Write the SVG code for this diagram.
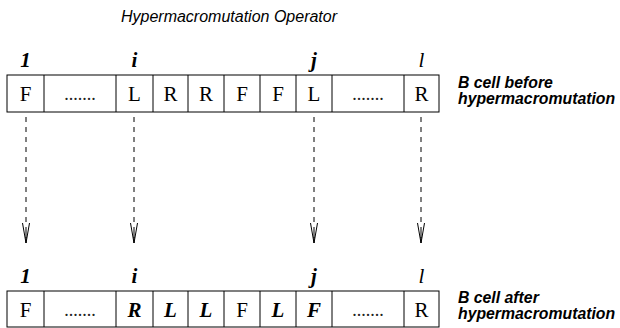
<svg xmlns="http://www.w3.org/2000/svg" width="620" height="328" viewBox="0 0 620 328">
  <style>
    .cell { fill: #fff; stroke: #000; stroke-width: 1; }
    .sym { font-family: 'Liberation Serif', 'Times New Roman', 'DejaVu Serif', serif; font-size: 21px; text-anchor: middle; fill: #000; }
    .dots { font-family: 'Liberation Serif', 'Times New Roman', 'DejaVu Serif', serif; font-size: 18px; text-anchor: middle; fill: #222; }
    .mut { font-weight: bold; font-style: italic; }
    .idx { font-family: 'Liberation Serif', 'Times New Roman', 'DejaVu Serif', serif; font-size: 21px; font-style: italic; text-anchor: middle; fill: #000; }
    .idxb { font-weight: bold; }
    .title { font-family: 'Liberation Sans', Arial, sans-serif; font-size: 16px; font-style: italic; text-anchor: middle; fill: #000; }
    .note { font-family: 'Liberation Sans', Arial, sans-serif; font-size: 15.8px; font-style: italic; font-weight: bold; fill: #000; }
    .flow { stroke: #000; stroke-width: 1; stroke-dasharray: 5 5; fill: none; }
    .head { stroke: #000; stroke-width: 1; fill: none; }
  </style>

  <text class="title" x="229" y="22">Hypermacromutation Operator</text>

  <!-- string before mutation -->
  <g id="cell-before">
    <rect class="cell" x="7" y="75" width="432" height="37"/>
    <path d="M44 75V112M116 75V112M153 75V112M188 75V112M224 75V112M260 75V112M296 75V112M332 75V112M404 75V112" stroke="#000" stroke-width="1"/>
    <text class="idx idxb" x="25.5" y="67">1</text>
    <text class="idx idxb" x="134.5" y="67">i</text>
    <text class="idx idxb" x="314" y="67">j</text>
    <text class="idx" x="421.5" y="67">l</text>
    <text class="sym" x="25.5" y="101">F</text>
    <text class="dots" x="80" y="100">.......</text>
    <text class="sym" x="134.5" y="101">L</text>
    <text class="sym" x="170.5" y="101">R</text>
    <text class="sym" x="206" y="101">R</text>
    <text class="sym" x="242" y="101">F</text>
    <text class="sym" x="278" y="101">F</text>
    <text class="sym" x="314" y="101">L</text>
    <text class="dots" x="368" y="100">.......</text>
    <text class="sym" x="421.5" y="101">R</text>
    <text class="note" x="458" y="88">B cell before</text>
    <text class="note" x="458" y="104">hypermacromutation</text>
  </g>

  <!-- string after mutation -->
  <g id="cell-after">
    <rect class="cell" x="7" y="291" width="432" height="36"/>
    <path d="M44 291V327M116 291V327M153 291V327M188 291V327M224 291V327M260 291V327M296 291V327M332 291V327M404 291V327" stroke="#000" stroke-width="1"/>
    <text class="idx idxb" x="25.5" y="283">1</text>
    <text class="idx idxb" x="134.5" y="283">i</text>
    <text class="idx idxb" x="314" y="283">j</text>
    <text class="idx" x="421.5" y="283">l</text>
    <text class="sym" x="25.5" y="317">F</text>
    <text class="dots" x="80" y="316">.......</text>
    <text class="sym mut" x="134.5" y="317">R</text>
    <text class="sym mut" x="170.5" y="317">L</text>
    <text class="sym mut" x="206" y="317">L</text>
    <text class="sym" x="242" y="317">F</text>
    <text class="sym mut" x="278" y="317">L</text>
    <text class="sym mut" x="314" y="317">F</text>
    <text class="dots" x="368" y="316">.......</text>
    <text class="sym" x="421.5" y="317">R</text>
    <text class="note" x="458" y="303">B cell after</text>
    <text class="note" x="458" y="319">hypermacromutation</text>
  </g>

  <!-- dashed mappings with open heads -->
  <g id="connectors">
    <path class="flow" d="M26 117V238M134 117V238M314 117V238M421 117V238"/>
    <path class="head" d="M22.5 223L26 243L29.5 223M26 232V243"/>
    <path class="head" d="M130.5 223L134 243L137.5 223M134 232V243"/>
    <path class="head" d="M310.5 223L314 243L317.5 223M314 232V243"/>
    <path class="head" d="M417.5 223L421 243L424.5 223M421 232V243"/>
  </g>
</svg>
